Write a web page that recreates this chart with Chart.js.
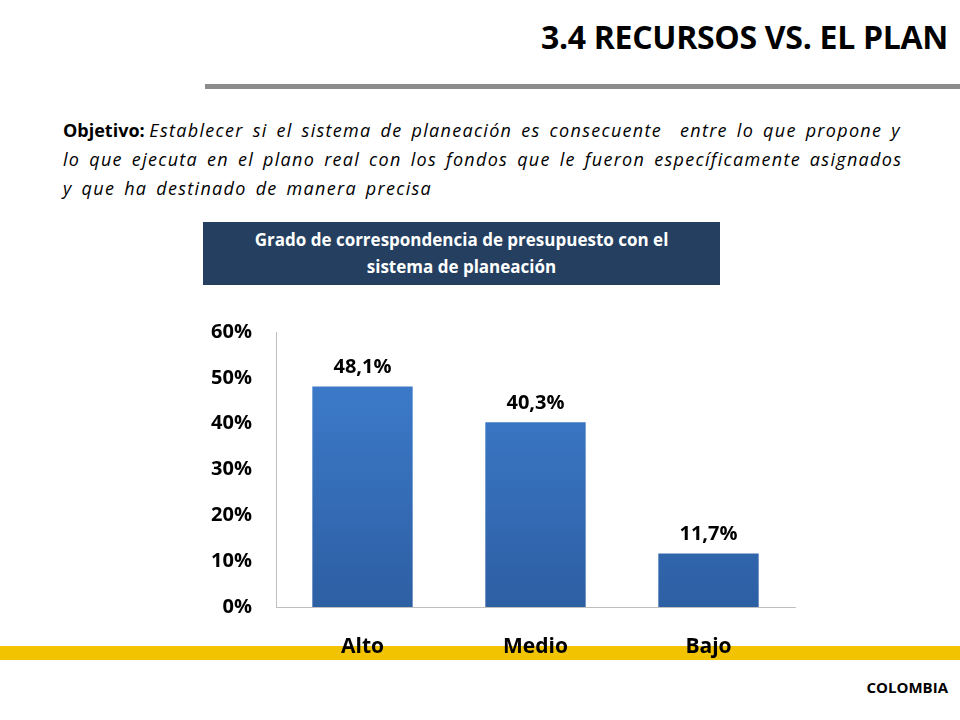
<!DOCTYPE html>
<html><head><meta charset="utf-8">
<script src="https://cdn.jsdelivr.net/npm/chart.js@4"></script>
<style>
body{margin:0;width:960px;height:720px;position:relative;background:#fff;font-family:"Open Sans",sans-serif;overflow:hidden}
#title{position:absolute;right:12px;top:15px;font:bold 32px "Open Sans",sans-serif;color:#000;letter-spacing:-0.3px}
#rule{position:absolute;left:205px;right:0;top:84px;height:5px;background:#8c8c8c}
#obj{position:absolute;left:63px;top:116px;width:900px;font:18px/29px "Open Sans",sans-serif;color:#000;white-space:nowrap}
#box{position:absolute;left:203px;top:222px;width:517px;height:63px;background:#243f60;color:#fff;font:bold 17px/27px "Open Sans",sans-serif;text-align:center;padding-top:4px;box-sizing:border-box}
#band{position:absolute;left:0;right:0;top:646px;height:14px;background:#f2c300}
#foot{position:absolute;right:12px;top:677px;font:bold 15px "Open Sans",sans-serif}
canvas{position:absolute;left:0;top:0}
</style></head><body>
<div id="title">3.4 RECURSOS VS. EL PLAN</div>
<div id="rule"></div>
<div id="obj"><b>Objetivo:</b> <i style="word-spacing:3px;letter-spacing:1.3px">Establecer si el sistema de planeación es consecuente&nbsp; entre lo que propone y<br>lo que ejecuta en el plano real con los fondos que le fueron específicamente asignados<br>y que ha destinado de manera precisa</i></div>
<div id="box">Grado de correspondencia de presupuesto con el<br>sistema de planeación</div>
<div id="band"></div>
<div id="foot">COLOMBIA</div>
<div style="position:absolute;left:0;top:0;width:960px;height:720px"><canvas id="c"></canvas></div>
<script>
const categories=["Alto","Medio","Bajo"];
const values=[48.1,40.3,11.7];
const valueLabels=["48,1%","40,3%","11,7%"];
const yTicks=[0,10,20,30,40,50,60];
const labelPlugin={id:"lbl",afterDatasetsDraw(ch){const c=ch.ctx;const m=ch.getDatasetMeta(0);c.save();c.font="bold 20px 'Open Sans',sans-serif";c.fillStyle="#000";c.textAlign="center";c.textBaseline="bottom";m.data.forEach((b,i)=>c.fillText(valueLabels[i],b.x,b.y-9));c.restore();}};
new Chart(document.getElementById("c"),{type:"bar",
data:{labels:categories,datasets:[{data:values,barPercentage:0.58,categoryPercentage:1,
backgroundColor:(ctx)=>{const a=ctx.chart.chartArea;if(!a)return"#3a75c4";const g=ctx.chart.ctx.createLinearGradient(0,a.top,0,a.bottom);g.addColorStop(0,"#3f80d2");g.addColorStop(1,"#2d5fa3");return g;}}]},
options:{responsive:true,maintainAspectRatio:false,animation:false,
layout:{padding:{left:180,right:165,top:332,bottom:43}},
plugins:{legend:{display:false},tooltip:{enabled:false}},
scales:{
x:{grid:{display:false},border:{color:"#bfbfbf"},afterFit(s){s.height=70},ticks:{padding:19,color:"#000",font:{family:"'Open Sans',sans-serif",size:21,weight:"bold"}}},
y:{min:0,max:60,afterFit(s){s.width=96},grid:{display:false,drawTicks:false},border:{color:"#bfbfbf"},
afterBuildTicks(s){s.ticks=yTicks.map(v=>({value:v}))},
ticks:{padding:24,color:"#000",font:{family:"'Open Sans',sans-serif",size:20,weight:"bold"},callback:v=>v+"%"}}}},
plugins:[labelPlugin]});
</script>
</body></html>
